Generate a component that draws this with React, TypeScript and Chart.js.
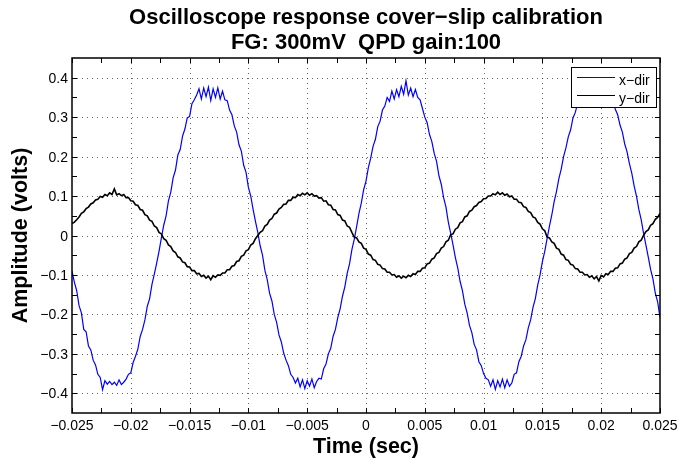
import { useEffect, useRef } from "react";
import { Chart, registerables } from "chart.js";

Chart.register(...registerables);

// ---- text ----
const TITLE_LINES = ["Oscilloscope response cover\u2212slip calibration", "FG: 300mV  QPD gain:100"];
const X_LABEL = "Time (sec)";
const Y_LABEL = "Amplitude (volts)";
const SERIES_NAMES = ["x\u2212dir", "y\u2212dir"];

// ---- sampling of the scope trace ----
const SAMPLE_START = -0.025; // s
const SAMPLE_STEP = 0.0002; // s

// x-direction QPD signal (volts)
const X_DIR = [
  -0.090, -0.118, -0.140, -0.178, -0.196, -0.238, -0.244, -0.280, -0.290, -0.316,
  -0.328, -0.352, -0.360, -0.391, -0.368, -0.377, -0.370, -0.378, -0.372, -0.380,
  -0.366, -0.378, -0.372, -0.364, -0.352, -0.348, -0.322, -0.306, -0.288, -0.256,
  -0.238, -0.214, -0.180, -0.160, -0.124, -0.098, -0.070, -0.040,
  -0.006, 0.026, 0.050, 0.088, 0.110, 0.146, 0.166, 0.204, 0.218, 0.252,
  0.270, 0.298, 0.302, 0.334, 0.344, 0.356, 0.372, 0.346, 0.374, 0.352,
  0.376, 0.342, 0.372, 0.350, 0.374, 0.346, 0.366, 0.344, 0.342, 0.318,
  0.306, 0.278, 0.262, 0.230, 0.214, 0.178, 0.160, 0.122, 0.100, 0.066,
  0.036,
  0.008, -0.026, -0.050, -0.088, -0.112, -0.146, -0.166, -0.200, -0.220, -0.252,
  -0.270, -0.298, -0.316, -0.330, -0.352, -0.360, -0.374, -0.362, -0.384, -0.366,
  -0.388, -0.368, -0.382, -0.364, -0.386, -0.370, -0.362, -0.364, -0.338, -0.326,
  -0.300, -0.286, -0.256, -0.238, -0.208, -0.186, -0.154, -0.130, -0.096, -0.072,
  -0.036,
  -0.010, 0.022, 0.056, 0.082, 0.116, 0.138, 0.172, 0.196, 0.226, 0.244,
  0.276, 0.290, 0.318, 0.328, 0.350, 0.340, 0.366, 0.346, 0.370, 0.352,
  0.378, 0.358, 0.392, 0.356, 0.374, 0.352, 0.370, 0.350, 0.344, 0.322,
  0.300, 0.286, 0.256, 0.238, 0.208, 0.188, 0.152, 0.130, 0.096, 0.072,
  0.034,
  0.006, -0.024, -0.056, -0.082, -0.116, -0.140, -0.174, -0.196, -0.228, -0.246,
  -0.276, -0.290, -0.320, -0.330, -0.350, -0.362, -0.366, -0.382, -0.366, -0.390,
  -0.368, -0.384, -0.364, -0.386, -0.366, -0.382, -0.374, -0.352, -0.348, -0.320,
  -0.306, -0.280, -0.264, -0.234, -0.214, -0.182, -0.160, -0.126, -0.100, -0.066,
  -0.040,
  -0.008, 0.024, 0.052, 0.086, 0.112, 0.144, 0.168, 0.200, 0.222, 0.250,
  0.268, 0.298, 0.312, 0.336, 0.346, 0.364, 0.346, 0.372, 0.354, 0.376,
  0.350, 0.372, 0.344, 0.370, 0.350, 0.374, 0.362, 0.346, 0.344, 0.320,
  0.306, 0.280, 0.262, 0.232, 0.212, 0.182, 0.158, 0.126, 0.100, 0.066,
  0.040,
  0.006, -0.024, -0.054, -0.086, -0.110, -0.146, -0.168, -0.208,
];

// y-direction QPD signal (volts)
const Y_DIR = [
  0.030, 0.034, 0.040, 0.047, 0.056, 0.060, 0.068, 0.072, 0.080, 0.083,
  0.090, 0.092, 0.099, 0.097, 0.104, 0.101, 0.108, 0.104, 0.118, 0.103,
  0.106, 0.101, 0.104, 0.096, 0.096, 0.088, 0.087, 0.078, 0.076, 0.066,
  0.064, 0.053, 0.050, 0.039, 0.036, 0.024, 0.020, 0.008,
  0.004, -0.008, -0.012, -0.024, -0.028, -0.039, -0.043, -0.054, -0.057, -0.067,
  -0.069, -0.079, -0.080, -0.089, -0.089, -0.097, -0.096, -0.104, -0.101, -0.108,
  -0.103, -0.112, -0.102, -0.106, -0.100, -0.101, -0.095, -0.095, -0.087, -0.087,
  -0.078, -0.076, -0.066, -0.064, -0.053, -0.050, -0.039, -0.036, -0.024, -0.020,
  -0.008,
  0.000, 0.008, 0.012, 0.024, 0.028, 0.039, 0.043, 0.054, 0.057, 0.067,
  0.071, 0.079, 0.080, 0.089, 0.089, 0.097, 0.096, 0.104, 0.101, 0.107,
  0.103, 0.108, 0.102, 0.106, 0.100, 0.101, 0.095, 0.096, 0.087, 0.088,
  0.078, 0.077, 0.066, 0.065, 0.053, 0.051, 0.039, 0.037, 0.024, 0.021,
  0.008,
  -0.004, -0.006, -0.016, -0.020, -0.032, -0.035, -0.047, -0.050, -0.061, -0.063,
  -0.073, -0.075, -0.084, -0.085, -0.093, -0.093, -0.100, -0.099, -0.106, -0.102,
  -0.108, -0.103, -0.107, -0.101, -0.104, -0.097, -0.099, -0.091, -0.091, -0.083,
  -0.082, -0.072, -0.070, -0.060, -0.057, -0.046, -0.043, -0.032, -0.028, -0.016,
  -0.012,
  0.002, 0.004, 0.016, 0.020, 0.032, 0.035, 0.047, 0.050, 0.061, 0.064,
  0.073, 0.076, 0.084, 0.086, 0.093, 0.094, 0.100, 0.100, 0.106, 0.103,
  0.110, 0.104, 0.108, 0.102, 0.105, 0.098, 0.100, 0.092, 0.092, 0.084,
  0.083, 0.073, 0.071, 0.061, 0.058, 0.047, 0.044, 0.033, 0.029, 0.017,
  0.012,
  -0.004, -0.006, -0.016, -0.020, -0.032, -0.035, -0.047, -0.050, -0.061, -0.063,
  -0.073, -0.075, -0.084, -0.085, -0.093, -0.093, -0.100, -0.099, -0.106, -0.102,
  -0.110, -0.104, -0.115, -0.101, -0.105, -0.097, -0.099, -0.091, -0.091, -0.083,
  -0.082, -0.072, -0.070, -0.060, -0.057, -0.046, -0.043, -0.032, -0.028, -0.016,
  -0.012,
  0.000, 0.010, 0.014, 0.026, 0.030, 0.041, 0.046, 0.056,
];

// ---- axes ----
const X_MIN = -0.025;
const X_MAX = 0.025;
const Y_MIN = -0.45;
const Y_MAX = 0.45;
const X_TICKS = [-0.025, -0.02, -0.015, -0.01, -0.005, 0, 0.005, 0.01, 0.015, 0.02, 0.025];
const X_TICK_LABELS = [
  "\u22120.025", "\u22120.02", "\u22120.015", "\u22120.01", "\u22120.005",
  "0", "0.005", "0.01", "0.015", "0.02", "0.025",
];
const Y_TICKS = [-0.4, -0.3, -0.2, -0.1, 0, 0.1, 0.2, 0.3, 0.4];
const Y_TICK_LABELS = ["\u22120.4", "\u22120.3", "\u22120.2", "\u22120.1", "0", "0.1", "0.2", "0.3", "0.4"];

const FONT = '"Liberation Sans", Arial, Helvetica, sans-serif';
const X_COLOR = "#0000ff";
const Y_COLOR = "#000000";

const toPoints = (vals: number[]) =>
  vals.map((v, i) => ({ x: SAMPLE_START + i * SAMPLE_STEP, y: v }));

const midpoints = (arr: number[]) => arr.slice(1).map((v, i) => (v + arr[i]) / 2);

// MATLAB-style axes: dotted grid, boxed frame, inward ticks, labels and legend
const matlabAxes = {
  id: "matlabAxes",
  beforeDatasetsDraw(chart: any) {
    const { ctx, chartArea: a, scales } = chart;
    const xs = scales.x;
    const ys = scales.y;
    ctx.save();
    ctx.strokeStyle = "rgba(0,0,0,0.6)";
    ctx.lineWidth = 1;
    ctx.setLineDash([1, 4]);
    X_TICKS.forEach((v) => {
      const px = Math.round(xs.getPixelForValue(v)) + 0.5;
      if (px <= a.left + 1 || px >= a.right - 1) return;
      ctx.beginPath();
      ctx.moveTo(px, a.top);
      ctx.lineTo(px, a.bottom);
      ctx.stroke();
    });
    Y_TICKS.forEach((v) => {
      const py = Math.round(ys.getPixelForValue(v)) + 0.5;
      if (py <= a.top + 1 || py >= a.bottom - 1) return;
      ctx.beginPath();
      ctx.moveTo(a.left, py);
      ctx.lineTo(a.right, py);
      ctx.stroke();
    });
    ctx.restore();
  },
  afterDatasetsDraw(chart: any) {
    const { ctx, chartArea: a, scales } = chart;
    const xs = scales.x;
    const ys = scales.y;
    const TL = 5;
    ctx.save();
    ctx.setLineDash([]);
    ctx.strokeStyle = "#000";

    // ticks (major + minor), pointing inward on all four sides
    ctx.lineWidth = 1;
    const xt = [...X_TICKS, ...midpoints(X_TICKS)];
    const yt = [...Y_TICKS, ...midpoints(Y_TICKS), -0.35 - 0.1 + 0.1, 0.35].filter(
      (v) => v > Y_MIN && v < Y_MAX
    );
    ctx.beginPath();
    xt.forEach((v) => {
      const px = Math.round(xs.getPixelForValue(v)) + 0.5;
      ctx.moveTo(px, a.bottom);
      ctx.lineTo(px, a.bottom - TL);
      ctx.moveTo(px, a.top);
      ctx.lineTo(px, a.top + TL);
    });
    yt.forEach((v) => {
      const py = Math.round(ys.getPixelForValue(v)) + 0.5;
      ctx.moveTo(a.left, py);
      ctx.lineTo(a.left + TL, py);
      ctx.moveTo(a.right, py);
      ctx.lineTo(a.right - TL, py);
    });
    ctx.stroke();

    // frame
    ctx.lineWidth = 1.5;
    ctx.strokeRect(a.left, a.top, a.right - a.left, a.bottom - a.top);

    // tick labels
    ctx.fillStyle = "#000";
    ctx.font = `14px ${FONT}`;
    ctx.textBaseline = "alphabetic";
    ctx.textAlign = "center";
    X_TICKS.forEach((v, i) => {
      ctx.fillText(X_TICK_LABELS[i], xs.getPixelForValue(v), a.bottom + 16.5);
    });
    ctx.textAlign = "right";
    Y_TICKS.forEach((v, i) => {
      ctx.fillText(Y_TICK_LABELS[i], a.left - 4, ys.getPixelForValue(v) + 5);
    });

    // axis titles
    ctx.font = `bold 21.5px ${FONT}`;
    ctx.textAlign = "center";
    const cx = (a.left + a.right) / 2;
    const cy = (a.top + a.bottom) / 2;
    ctx.fillText(X_LABEL, cx, 452.5);
    ctx.save();
    ctx.translate(27, cy);
    ctx.rotate(-Math.PI / 2);
    ctx.fillText(Y_LABEL, 0, 0);
    ctx.restore();

    // title
    ctx.font = `bold 22px ${FONT}`;
    ctx.fillText(TITLE_LINES[0], cx, 24);
    ctx.fillText(TITLE_LINES[1], cx, 48.5);

    // legend
    const lx = 571.5;
    const ly = 67.5;
    const lw = 85;
    const lh = 40;
    ctx.fillStyle = "#fff";
    ctx.fillRect(lx, ly, lw, lh);
    ctx.lineWidth = 1;
    ctx.strokeStyle = "#000";
    ctx.strokeRect(lx, ly, lw, lh);
    const rows = [
      { name: SERIES_NAMES[0], color: X_COLOR, y: 77 },
      { name: SERIES_NAMES[1], color: Y_COLOR, y: 95 },
    ];
    ctx.font = `14px ${FONT}`;
    ctx.textAlign = "left";
    rows.forEach((r) => {
      ctx.strokeStyle = r.color;
      ctx.lineWidth = 1.2;
      ctx.beginPath();
      ctx.moveTo(577, r.y + 0.5);
      ctx.lineTo(615, r.y + 0.5);
      ctx.stroke();
      ctx.fillStyle = "#000";
      ctx.fillText(r.name, 619, r.y + 7.5);
    });
    ctx.restore();
  },
};

export default function App() {
  const canvasRef = useRef<HTMLCanvasElement | null>(null);

  useEffect(() => {
    const canvas = canvasRef.current;
    if (!canvas) return;
    const chart = new Chart(canvas, {
      type: "line",
      data: {
        datasets: [
          {
            label: SERIES_NAMES[0],
            data: toPoints(X_DIR),
            borderColor: X_COLOR,
            borderWidth: 1.2,
            pointRadius: 0,
            tension: 0,
            order: 1,
          },
          {
            label: SERIES_NAMES[1],
            data: toPoints(Y_DIR),
            borderColor: Y_COLOR,
            borderWidth: 1.6,
            pointRadius: 0,
            tension: 0,
            order: 0,
          },
        ],
      },
      options: {
        responsive: false,
        devicePixelRatio: 1,
        animation: false,
        layout: { padding: { left: 72, top: 58, right: 18, bottom: 47 } },
        scales: {
          x: { type: "linear", min: X_MIN, max: X_MAX, display: false },
          y: { type: "linear", min: Y_MIN, max: Y_MAX, display: false },
        },
        plugins: {
          legend: { display: false },
          title: { display: false },
          tooltip: { enabled: false },
        },
      },
      plugins: [matlabAxes],
    });
    return () => chart.destroy();
  }, []);

  return (
    <div style={{ position: "absolute", left: 0, top: 0, width: 678, height: 460, background: "#fff" }}>
      <canvas ref={canvasRef} width={678} height={460} style={{ display: "block", width: 678, height: 460 }} />
    </div>
  );
}
